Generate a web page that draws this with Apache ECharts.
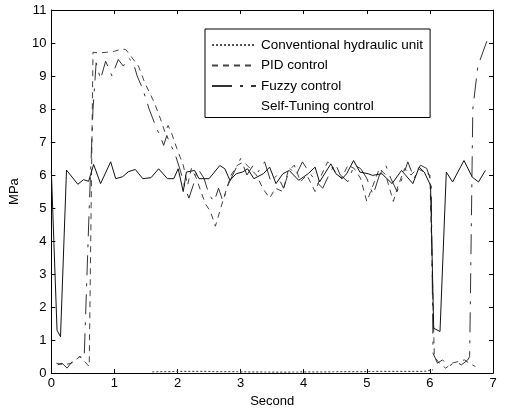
<!DOCTYPE html>
<html><head><meta charset="utf-8">
<script src="https://cdn.jsdelivr.net/npm/echarts@6/dist/echarts.min.js"></script>
<style>html,body{margin:0;padding:0;background:#fff}#c{width:508px;height:413px}</style>
</head><body><div id="c"></div>
<script>
// ---- data ----
var seriesNames = ['Conventional hydraulic unit', 'PID control', 'Fuzzy control', 'Self-Tuning control'];
var xTicks = [0,1,2,3,4,5,6,7];
var yTicks = [0,1,2,3,4,5,6,7,8,9,10,11];

var convT = [1.6, 2.0, 2.45, 3.0, 3.6, 4.4, 5.2, 5.9, 6.05];
var convP = [0.04, 0.05, 0.05, 0.04, 0.03, 0.04, 0.05, 0.05, 0.1];

var pidT = [0.08,0.2,0.32,0.45,0.6,0.66,0.75,0.88,1.0,1.12,1.18,1.28,1.38,1.48,1.63,1.73,1.8,1.85,1.9,1.99,2.09,2.16,2.22,2.3,2.37,2.45,2.52,2.6,2.7,2.78,2.85,2.95,3.05,3.15,3.25,3.35,3.46,3.55,3.67,3.75,3.85,3.95,4.05,4.18,4.28,4.38,4.5,4.6,4.7,4.8,4.9,5.0,5.1,5.2,5.3,5.42,5.5,5.6,5.7,5.8,5.9,6.0,6.07,6.15,6.25,6.35,6.45,6.55,6.62,6.72];
var pidP = [0.3,0.25,0.3,0.5,0.2,9.72,9.7,9.72,9.75,9.82,9.8,9.55,9.3,8.8,8.2,7.7,7.3,7.5,7.3,6.8,6.3,5.7,6.2,5.9,5.5,5.1,4.9,4.45,5.1,5.6,6.0,6.3,6.4,6.2,6.0,5.6,5.3,5.6,5.5,6.1,6.3,5.8,6.0,5.5,6.0,6.4,6.1,5.9,6.3,6.2,5.9,5.2,5.7,6.2,6.0,5.2,5.7,6.2,6.0,6.2,6.1,6.0,0.5,0.3,0.15,0.3,0.35,0.4,0.3,0.2];

var fuzT = [0.1,0.17,0.25,0.35,0.45,0.52,0.6,0.66,0.71,0.78,0.86,0.96,1.06,1.14,1.22,1.3,1.36,1.45,1.55,1.65,1.74,1.78,1.83,1.88,1.95,2.05,2.12,2.18,2.25,2.32,2.42,2.5,2.58,2.65,2.72,2.8,2.9,3.0,3.1,3.2,3.28,3.38,3.48,3.58,3.68,3.78,3.88,3.98,4.08,4.2,4.3,4.4,4.5,4.58,4.7,4.8,4.9,5.0,5.1,5.2,5.3,5.38,5.48,5.58,5.65,5.75,5.85,5.95,6.02,6.05,6.12,6.2,6.3,6.4,6.5,6.6,6.63,6.68,6.76,6.93];
var fuzP = [0.25,0.3,0.15,0.4,0.5,0.45,5.0,8.0,9.4,8.9,9.45,9.0,9.5,9.3,9.55,9.4,9.0,8.6,8.0,7.5,7.1,6.9,7.2,6.95,6.7,6.1,5.6,5.3,5.7,6.2,5.9,5.4,5.2,5.6,5.2,5.7,6.1,6.5,6.0,6.3,6.1,6.4,5.8,6.0,5.6,6.2,6.0,6.4,6.1,5.8,5.6,6.0,6.35,6.0,5.8,6.3,6.2,5.9,5.4,6.0,6.3,5.9,5.5,6.0,6.4,5.9,6.3,6.2,5.8,0.6,0.3,0.4,0.2,0.35,0.25,0.4,0.5,8.0,9.3,10.2];

var stT = [0,0.09,0.145,0.24,0.42,0.51,0.59,0.67,0.78,0.94,1.02,1.13,1.22,1.33,1.45,1.58,1.7,1.84,1.94,2.01,2.09,2.14,2.27,2.34,2.5,2.67,2.75,2.83,2.93,3.03,3.11,3.21,3.36,3.46,3.56,3.67,3.77,3.92,4.07,4.18,4.25,4.43,4.51,4.61,4.68,4.79,4.89,5.02,5.09,5.24,5.4,5.55,5.73,5.83,5.91,6.01,6.06,6.16,6.26,6.36,6.54,6.67,6.77,6.88];
var stP = [6.1,1.3,1.1,6.15,5.72,5.86,5.81,6.32,5.74,6.4,5.89,5.95,6.1,6.17,5.89,5.92,6.19,5.89,5.89,6.19,5.5,6.09,6.14,5.89,5.89,6.29,6.19,5.84,6.04,6.09,6.19,5.89,6.04,6.24,5.74,6.04,6.14,5.84,6.04,6.24,5.79,6.34,6.04,5.89,6.04,6.44,6.09,6.04,5.99,6.04,5.74,6.14,5.74,6.24,6.09,5.69,1.36,1.26,6.09,5.79,6.44,5.94,5.79,6.14];

function pairs(t, p) { return t.map(function (v, i) { return [v, p[i]]; }); }

var font = 'Liberation Sans, Arial, Helvetica, sans-serif';
var chart = echarts.init(document.getElementById('c'), null, {renderer: 'canvas'});
var gridBox = {left: 46, right: 15, top: 10, bottom: 30};

function axisBase(extra) {
  var o = {
    type: 'value', splitLine: {show: false},
    axisLine: {show: true, onZero: false, lineStyle: {color: '#000', width: 1}},
    axisTick: {show: true, inside: true, length: 4, lineStyle: {color: '#000'}},
    axisLabel: {color: '#000', fontFamily: font, fontSize: 13}
  };
  for (var k in extra) o[k] = extra[k];
  return o;
}

chart.setOption({
  animation: false,
  backgroundColor: '#fff',
  grid: gridBox,
  xAxis: [
    axisBase({min: 0, max: 7, interval: 1, position: 'bottom', name: 'Second', nameLocation: 'middle', nameGap: 14,
      nameTextStyle: {color: '#000', fontFamily: font, fontSize: 13},
      axisLabel: {color: '#000', fontFamily: font, fontSize: 13, margin: 4}}),
    axisBase({min: 0, max: 7, interval: 1, position: 'top', axisLabel: {show: false}})
  ],
  yAxis: [
    axisBase({min: 0, max: 11, interval: 1, position: 'left', name: 'MPa', nameLocation: 'middle', nameGap: 19,
      nameTextStyle: {color: '#000', fontFamily: font, fontSize: 13},
      axisLabel: {color: '#000', fontFamily: font, fontSize: 13, margin: 5}}),
    axisBase({min: 0, max: 11, interval: 1, position: 'right', axisLabel: {show: false}})
  ],
  legend: {
    orient: 'vertical', left: 205, top: 29,
    backgroundColor: '#fff', borderColor: '#000', borderWidth: 1,
    padding: [9, 7, 4, 6], itemGap: 6.5, itemWidth: 44, itemHeight: 10,
    itemStyle: {opacity: 0},
    textStyle: {color: '#000', fontFamily: font, fontSize: 13.5},
    data: [
      {name: seriesNames[0]},
      {name: seriesNames[1]},
      {name: seriesNames[2]},
      {name: seriesNames[3], lineStyle: {opacity: 0}, itemStyle: {opacity: 0}}
    ]
  },
  series: [
    {name: seriesNames[0], type: 'line', symbol: 'none', data: pairs(convT, convP),
      lineStyle: {color: '#555', width: 1.2, type: [2, 2]}, itemStyle: {color: '#555'}},
    {name: seriesNames[1], type: 'line', symbol: 'none', data: pairs(pidT, pidP),
      lineStyle: {color: '#444', width: 1, type: [6, 5]}, itemStyle: {color: '#444'}},
    {name: seriesNames[2], type: 'line', symbol: 'none', data: pairs(fuzT, fuzP),
      lineStyle: {color: '#333', width: 1, type: [20, 8, 3, 8]}, itemStyle: {color: '#333'}},
    {name: seriesNames[3], type: 'line', symbol: 'none', data: pairs(stT, stP),
      lineStyle: {color: '#111', width: 1}, itemStyle: {color: '#111'}}
  ]
});
</script></body></html>
